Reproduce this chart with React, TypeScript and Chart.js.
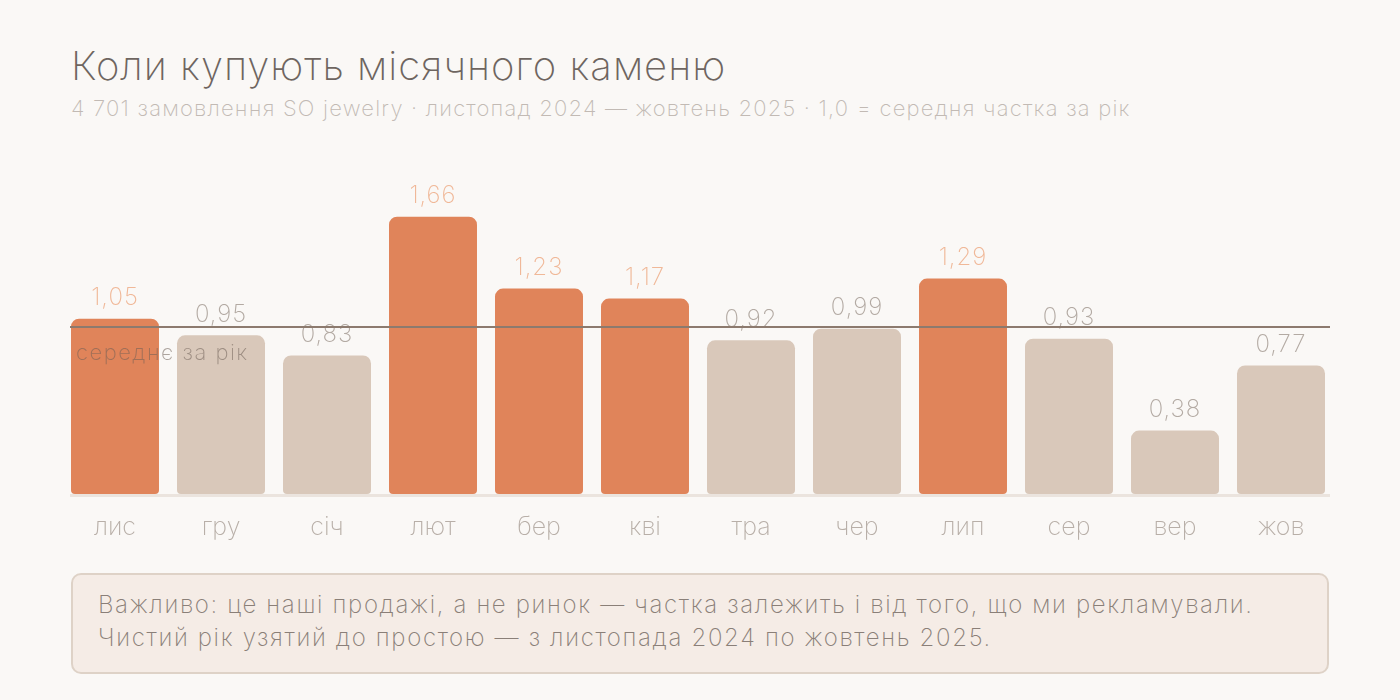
import { useRef, useEffect } from 'react';
import Chart from 'chart.js/auto';

const months = ['лис', 'гру', 'січ', 'лют', 'бер', 'кві', 'тра', 'чер', 'лип', 'сер', 'вер', 'жов'];
const shares = [1.05, 0.95, 0.83, 1.66, 1.23, 1.17, 0.92, 0.99, 1.29, 0.93, 0.38, 0.77];
const average = 1.0;

const FONT = "Inter, Lato, 'Noto Sans', sans-serif";
const W = 150;

const ORANGE = '#E0845A';
const BEIGE = '#D9C8BA';

const fmt = (v: number) => v.toFixed(2).replace('.', ',');

const overlayPlugin = {
  id: 'overlay',
  afterDatasetsDraw(chart: any) {
    const { ctx, chartArea, scales } = chart;
    const meta = chart.getDatasetMeta(0);
    const x0 = chartArea.left + 8;
    const x1 = chartArea.right - 4;

    // baseline
    ctx.save();
    ctx.strokeStyle = '#EBE4DE';
    ctx.lineWidth = 3;
    ctx.beginPath();
    ctx.moveTo(x0, chartArea.bottom + 1.5);
    ctx.lineTo(x1, chartArea.bottom + 1.5);
    ctx.stroke();

    // value labels
    ctx.font = `${W} 24px ${FONT}`;
    ctx.letterSpacing = '1px';
    ctx.textAlign = 'center';
    ctx.textBaseline = 'middle';
    meta.data.forEach((bar: any, i: number) => {
      const v = shares[i];
      ctx.fillStyle = v > average ? '#F0B898' : '#B3AAA3';
      ctx.fillText(fmt(v), bar.x, bar.y - 21);
    });

    // average line
    const y = scales.y.getPixelForValue(average);
    ctx.strokeStyle = '#8C7A6E';
    ctx.lineWidth = 2;
    ctx.beginPath();
    ctx.moveTo(x0, y);
    ctx.lineTo(x1, y);
    ctx.stroke();

    ctx.font = `${W} 22px ${FONT}`;
    ctx.letterSpacing = '1.5px';
    ctx.textAlign = 'left';
    ctx.fillStyle = 'rgba(110, 95, 85, 0.55)';
    ctx.fillText('середнє за рік', x0 + 6, y + 26);
    ctx.restore();
  },
};

function MoonstoneChart() {
  const chartRef = useRef<HTMLCanvasElement>(null);
  const chartInstance = useRef<Chart | null>(null);

  useEffect(() => {
    if (!chartRef.current) return;
    if (chartInstance.current) chartInstance.current.destroy();

    chartInstance.current = new Chart(chartRef.current, {
      type: 'bar',
      data: {
        labels: months,
        datasets: [
          {
            data: shares,
            backgroundColor: shares.map(v => (v > average ? ORANGE : BEIGE)),
            borderRadius: { topLeft: 8, topRight: 8, bottomLeft: 4, bottomRight: 4 },
            borderSkipped: false,
            barPercentage: 0.83,
            categoryPercentage: 1,
          },
        ],
      },
      options: {
        animation: false,
        responsive: true,
        maintainAspectRatio: false,
        layout: { padding: { left: 62, right: 66, top: 10, bottom: 6 } },
        plugins: {
          legend: { display: false },
          tooltip: { enabled: false },
        },
        scales: {
          x: {
            grid: { display: false },
            border: { display: false },
            ticks: {
              color: '#B8AFA8',
              padding: 10,
              font: { family: FONT, size: 25, weight: W as any },
            },
          },
          y: {
            display: false,
            min: 0,
            max: 2,
          },
        },
      },
      plugins: [overlayPlugin],
    });

    return () => {
      if (chartInstance.current) chartInstance.current.destroy();
    };
  }, []);

  return <canvas ref={chartRef}></canvas>;
}

export default function App() {
  useEffect(() => {
    document.body.style.margin = '0';
  }, []);

  return (
    <div
      style={{
        position: 'relative',
        width: 1400,
        height: 700,
        background: '#FAF8F6',
        fontFamily: FONT,
        overflow: 'hidden',
      }}
    >
      <div
        style={{
          position: 'absolute',
          left: 71,
          top: 41,
          fontSize: 40,
          fontWeight: W,
          letterSpacing: 1.0,
          color: '#6E6560',
          whiteSpace: 'nowrap',
          lineHeight: '50px',
        }}
      >
        Коли купують місячного каменю
      </div>
      <div
        style={{
          position: 'absolute',
          left: 71,
          top: 94,
          fontSize: 22,
          fontWeight: W,
          letterSpacing: 1.2,
          color: '#C2BAB4',
          whiteSpace: 'nowrap',
          lineHeight: '28px',
        }}
      >
        4 701 замовлення SO jewelry · листопад 2024 — жовтень 2025 · 1,0 = середня частка за рік
      </div>
      <div style={{ position: 'absolute', left: 0, top: 150, width: 1400, height: 408 }}>
        <MoonstoneChart />
      </div>
      <div
        style={{
          position: 'absolute',
          left: 71,
          top: 573,
          width: 1258,
          height: 101,
          boxSizing: 'border-box',
          background: '#F5ECE6',
          border: '2px solid #DED2C7',
          borderRadius: 10,
          padding: '13px 25px',
          fontSize: 24,
          fontWeight: W,
          letterSpacing: 1.65,
          color: '#8A7F78',
          lineHeight: '33px',
          whiteSpace: 'nowrap',
        }}
      >
        <div>Важливо: це наші продажі, а не ринок — частка залежить і від того, що ми рекламували.</div>
        <div>Чистий рік узятий до простою — з листопада 2024 по жовтень 2025.</div>
      </div>
    </div>
  );
}
